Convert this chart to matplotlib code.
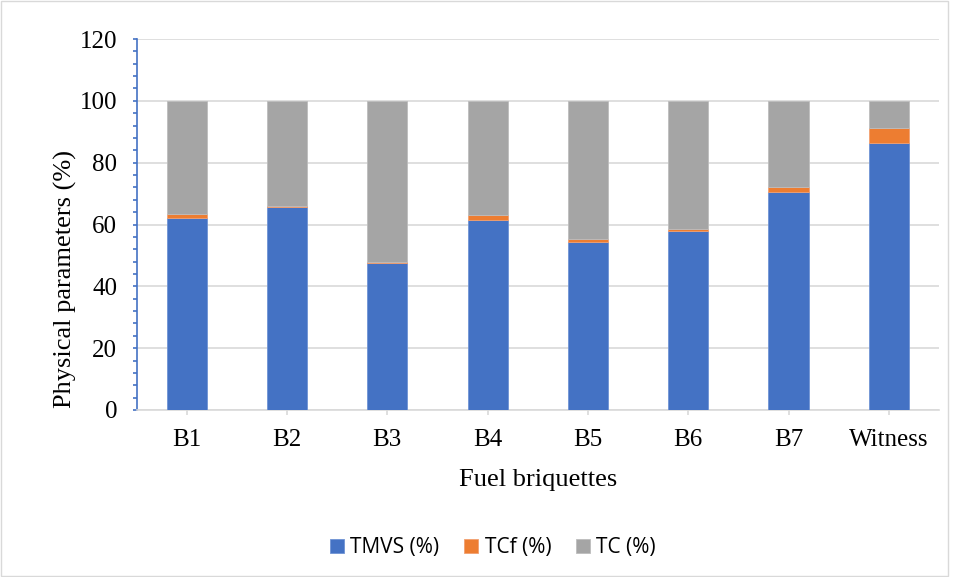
import numpy as np
import matplotlib.pyplot as plt
from matplotlib.patches import Rectangle
from matplotlib.ticker import MultipleLocator

# data
briquettes = ["B1", "B2", "B3", "B4", "B5", "B6", "B7", "Witness"]
tmvs = [62.2, 65.6, 47.5, 61.6, 54.5, 57.9, 70.6, 86.4]
tcf = [1.2, 0.3, 0.4, 1.4, 0.8, 0.7, 1.5, 4.9]
tc = [100 - a - b for a, b in zip(tmvs, tcf)]

blue = "#4472C4"
orange = "#ED7D31"
gray = "#A5A5A5"

fig = plt.figure(figsize=(9.56, 5.77), dpi=100)
ax = fig.add_axes([136.5 / 956, 1 - 410 / 577, (939 - 136.5) / 956, (410 - 39) / 577])

x = np.arange(len(briquettes))
w = 0.4
ax.bar(x, tmvs, w, color=blue, label="TMVS (%)", zorder=3,
       edgecolor="#6F93D4", linewidth=0.6)
ax.bar(x, tcf, w, bottom=tmvs, color=orange, label="TCf (%)", zorder=3,
       edgecolor="#F2A070", linewidth=0.6)
bottom2 = [a + b for a, b in zip(tmvs, tcf)]
ax.bar(x, tc, w, bottom=bottom2, color=gray, label="TC (%)", zorder=3,
       edgecolor="#BDBDBD", linewidth=0.6)

ax.set_xlim(-0.5, len(briquettes) - 0.5)
ax.set_ylim(0, 120)
ax.yaxis.set_major_locator(MultipleLocator(20))
ax.yaxis.set_minor_locator(MultipleLocator(4))
ax.set_xticks(x)
ax.set_xticklabels(briquettes)

ax.grid(axis="y", color="#D9D9D9", linewidth=1.2, zorder=0)
for s in ["top", "right"]:
    ax.spines[s].set_visible(False)
ax.spines["left"].set_color(blue)
ax.spines["left"].set_linewidth(1.2)
ax.spines["bottom"].set_color("#D9D9D9")
ax.spines["bottom"].set_linewidth(1.2)

ax.tick_params(axis="y", which="both", color=blue, length=3, width=1.2,
               labelsize=18, pad=11)
ax.tick_params(axis="x", color="#D9D9D9", length=3.6, width=1.2, labelsize=18, pad=10)
for lab in ax.get_xticklabels() + ax.get_yticklabels():
    lab.set_fontfamily("Liberation Serif")

ax.set_xlabel("Fuel briquettes", fontfamily="Liberation Serif", fontsize=19, labelpad=13)
ax.set_ylabel("Physical parameters (%)", fontfamily="Liberation Serif", fontsize=19, labelpad=2)
ax.yaxis.label.set_y(0.353)

fig.legend(loc="center", bbox_to_anchor=(493 / 956, 1 - 548 / 577), ncol=3,
           frameon=False, prop={"family": "Open Sans", "size": 15},
           handlelength=0.67, handleheight=0.67, handletextpad=0.3, columnspacing=1.2)

# light frame round the chart area
fig.patches.append(Rectangle((0.001, 0.001), 947 / 956, 0.997, transform=fig.transFigure,
                             fill=False, edgecolor="#D9D9D9", linewidth=1))

fig.savefig("out.png", dpi=100)
